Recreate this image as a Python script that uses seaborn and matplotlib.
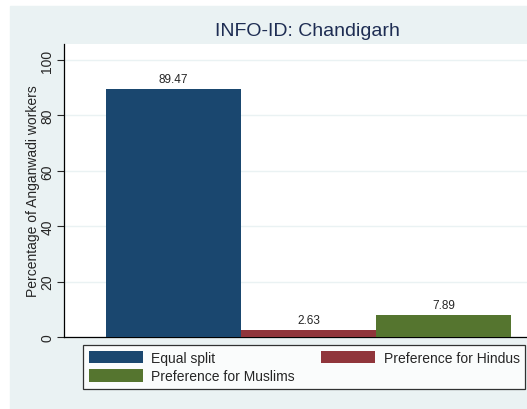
import matplotlib
matplotlib.use("Agg")
import matplotlib.pyplot as plt
import seaborn as sns
import pandas as pd

# data
categories = ["Equal split", "Preference for Hindus", "Preference for Muslims"]
values = [89.47, 2.63, 7.89]
colors = ["#1a476f", "#90353b", "#55752f"]
yticks = [0, 20, 40, 60, 80, 100]

df = pd.DataFrame({"group": categories, "pct": values})

sns.set_style("white")
plt.rcParams["font.family"] = ["Liberation Sans", "DejaVu Sans"]

bg = "#eaf2f3"
fig = plt.figure(figsize=(5.27, 4.10), dpi=100)
fig.patch.set_facecolor("white")
# light outer panel (Stata style)
fig.patches.append(plt.Rectangle((10 / 527, 0), 1, 1 - 7 / 410,
                                 transform=fig.transFigure, color=bg, zorder=-10))

ax = fig.add_axes([64 / 527, 1 - 338 / 410, 1 - 64 / 527, (338 - 45) / 410])
ax.set_facecolor("white")

sns.barplot(data=df, x="group", y="pct", hue="group", palette=colors,
            width=1, legend=True, ax=ax, saturation=1, linewidth=0, zorder=3)

for cont in ax.containers:
    ax.bar_label(cont, fmt="%.2f", fontsize=8.5, padding=3)

ax.set_xlim(-0.811, 2.618)
ax.set_ylim(0, 105.8)
ax.set_yticks(yticks)
ax.set_yticklabels([str(t) for t in yticks], rotation=90, va="center", fontsize=10)
ax.tick_params(axis="y", length=5, width=0.8, pad=2, left=True, direction="out")
ax.set_xticks([])
ax.set_xlabel("")
ax.set_ylabel("Percentage of Anganwadi workers", fontsize=10, labelpad=0)
ax.grid(axis="y", color=bg, linewidth=1, zorder=0)
ax.set_axisbelow(True)
for s in ["top", "right"]:
    ax.spines[s].set_visible(False)
for s in ["left", "bottom"]:
    ax.spines[s].set_color("black")
    ax.spines[s].set_linewidth(0.9)

# row-wise legend order: Equal split | Hindus / Muslims
handles, labels = ax.get_legend_handles_labels()
order = [0, 2, 1]
leg = ax.legend([handles[i] for i in order], [labels[i] for i in order],
                ncol=2, loc="upper left",
                bbox_to_anchor=(83 / 527, 1 - 346 / 410),
                bbox_transform=fig.transFigure, fontsize=10,
                handlelength=3.9, handleheight=1.05, handletextpad=0.6,
                columnspacing=1.9, labelspacing=0.3,
                borderpad=0.4, borderaxespad=0, fancybox=False,
                frameon=True, edgecolor="black", facecolor="white")
leg.get_frame().set_linewidth(0.9)

fig.text(307 / 527, 1 - 32 / 410, "INFO-ID: Chandigarh", ha="center", va="center",
         fontsize=14, color="#1e2d53")

fig.savefig("out.png", dpi=100)
